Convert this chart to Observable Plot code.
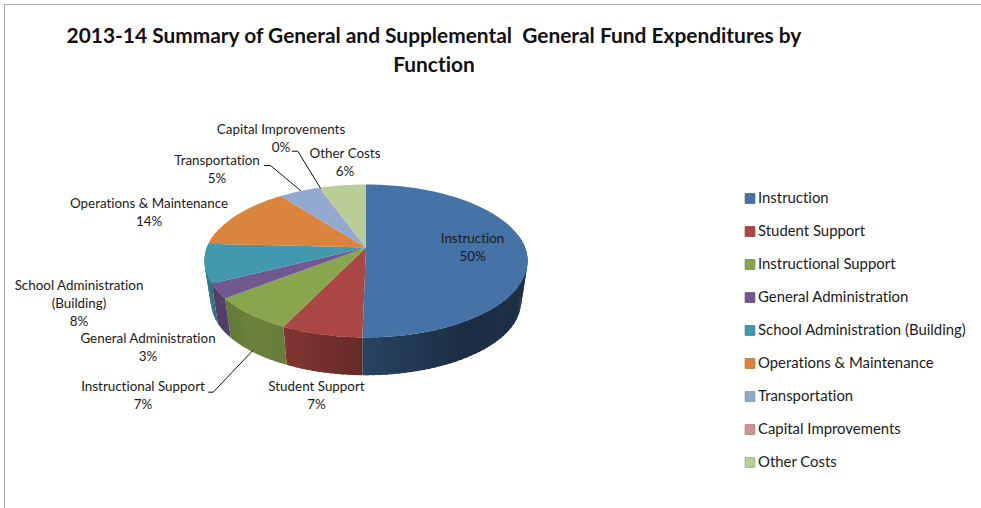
<!DOCTYPE html>
<html>
<head>
<meta charset="utf-8">
<script src="https://cdn.jsdelivr.net/npm/d3@7"></script>
<script src="https://cdn.jsdelivr.net/npm/@observablehq/plot@0.6"></script>
<style>
  html, body { margin: 0; padding: 0; background: #fff; }
  #page { position: relative; width: 981px; height: 508px; overflow: hidden; }
  #frame { position: absolute; left: 4px; top: 4px; right: -4px; bottom: -4px;
           border-left: 1.5px solid #aaa; border-top: 1.5px solid #aaa; pointer-events: none; }
  #page figure { margin: 0; }
  #page figure h2 { margin: 0; box-sizing: border-box; height: 82px; width: 981px;
    padding: 20px 170px 0 57px; font: 700 20.9px/29px Lato, sans-serif; color: #111;
    text-align: center; white-space: pre-wrap; font-variant-ligatures: none; }
  #page figure svg { display: block; }
  #page figure svg text { font-variant-ligatures: none; }
</style>
</head>
<body>
<div id="page"><div id="frame"></div></div>
<script>
const chartTitle = "2013-14 Summary of General and Supplemental  General Fund Expenditures by Function";
const categories = ["Instruction", "Student Support", "Instructional Support", "General Administration",
  "School Administration (Building)", "Operations & Maintenance", "Transportation", "Capital Improvements", "Other Costs"];
const shares = [50.3, 6.9, 7.3, 3.1, 8.2, 13.7, 4.9, 0.1, 5.5];
const percentLabels = ["50%", "7%", "7%", "3%", "8%", "14%", "5%", "0%", "6%"];
const sliceLabels = ["Instruction", "Student Support", "Instructional Support", "General Administration",
  "School Administration\n(Building)", "Operations & Maintenance", "Transportation", "Capital Improvements", "Other Costs"];
const colors = ["#4572A7", "#AA4643", "#89A54E", "#71588F", "#4198AF", "#DB843D", "#93A9CF", "#D19392", "#B9CD96"];

// Layout (page pixels)
const labelAnchorX = [472, 316, 142.5, 147.5, 78.5, 148.5, 216.5, 280.5, 344.5];
const labelAnchorY = [246, 394, 394, 346, 302, 211, 168, 137, 160.5];
const leaderPaths = [
  [[208, 391.7], [212.7, 391.7], [252.3, 350]],
  [[264, 165], [270, 165], [300, 190]],
  [[291.7, 150.7], [297.3, 150.7], [320, 187.7]]
];
const legendSwatchX = 749.5, legendTextX = 757.5, legendTop = 198, legendStep = 33;
const pieCx = 365.5, pieCy = 247, pieR = 159, pieK = 0.1765, pieS = 74.1;
const wallScale = 0.96, wallShift = 41.3;
const wallShade = d3.scaleLinear().domain([-165, -150, -120, -82, 0, 100, 165]).range([.78, .72, .78, .76, .58, .40, .42]).clamp(true);

const rad = d => d * Math.PI / 180;
function project(deg, scale = 1, shift = 0) {
  const sx = Math.sin(rad(deg)), sy = Math.cos(rad(deg)), w = 1 + pieK * sy;
  return [pieCx + pieR * scale * sx / w, pieCy - pieS * scale * sy / w + shift];
}
function shade(hex, f) {
  const c = d3.rgb(hex);
  return d3.rgb(c.r * f, c.g * f, c.b * f).formatHex();
}

const total = d3.sum(shares);
const boundaries = Array.from(d3.cumsum([0, ...shares]), v => v / total * 360);

const topPoints = [], wallPoints = [];
categories.forEach((category, i) => {
  const a0 = boundaries[i], a1 = boundaries[i + 1];
  const steps = Math.max(1, Math.ceil((a1 - a0) / 1.5));
  topPoints.push({category, x: pieCx, y: pieCy});
  for (let j = 0; j <= steps; j++) {
    const [x, y] = project(a0 + (a1 - a0) * j / steps);
    topPoints.push({category, x, y});
  }
  const lo = Math.max(a0, 80), hi = Math.min(a1, 285);
  if (hi > lo) {
    const n = Math.ceil((hi - lo) / 2);
    for (let j = 0; j < n; j++) {
      const b0 = lo + (hi - lo) * j / n;
      const b1 = Math.min(hi, lo + (hi - lo) * (j + 1) / n + 1);
      const p0 = project(b0), p1 = project(b1);
      const q1 = project(b1, wallScale, wallShift), q0 = project(b0, wallScale, wallShift);
      const color = shade(colors[i], wallShade((p0[0] + p1[0]) / 2 - pieCx));
      const id = `${i}-${j}`;
      for (const [x, y] of [p0, p1, q1, q0, p0]) wallPoints.push({id, color, x, y});
    }
  }
});

const labels = categories.map((category, i) => ({
  text: `${sliceLabels[i]}\n${percentLabels[i]}`, x: labelAnchorX[i], y: labelAnchorY[i]
}));
const leaders = leaderPaths.flatMap((path, id) => path.map(([x, y]) => ({id, x, y})));
const legend = categories.map((category, i) => ({category, y: legendTop + i * legendStep, edge: shade(colors[i], .85)}));

const textStyle = {fontFamily: "Lato, sans-serif", fontSize: 13.4, fill: "#1a1a1a"};

const chart = Plot.plot({
  title: chartTitle,
  width: 981, height: 426, margin: 0,
  x: {domain: [0, 981], axis: null},
  y: {domain: [508, 82], axis: null},
  color: {domain: categories, range: colors},
  style: {background: "transparent", overflow: "visible"},
  marks: [
    Plot.line(wallPoints, {x: "x", y: "y", z: "id", curve: "linear",
      fill: {value: d => d.color, scale: null}, stroke: "none"}),
    Plot.line(topPoints, {x: "x", y: "y", z: "category", curve: "linear", fill: "category", stroke: "none"}),
    Plot.line(leaders, {x: "x", y: "y", z: "id", curve: "linear", stroke: "#111", strokeWidth: 1}),
    Plot.text(labels, {x: "x", y: "y", text: "text", textAnchor: "middle", lineHeight: 1.34, ...textStyle}),
    Plot.dot(legend, {x: () => legendSwatchX, y: "y", symbol: "square", r: 5.4, fill: "category",
      stroke: {value: d => d.edge, scale: null}, strokeWidth: 1}),
    Plot.text(legend, {x: () => legendTextX, y: "y", text: "category", textAnchor: "start", ...textStyle, fontSize: 14.9})
  ]
});
document.getElementById("page").prepend(chart);
</script>
</body>
</html>
